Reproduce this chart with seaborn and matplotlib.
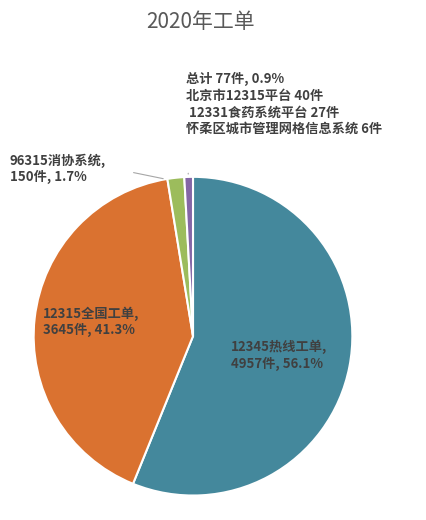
import matplotlib
matplotlib.use('Agg')
import matplotlib.pyplot as plt
import seaborn as sns

sns.set_theme(style='white')
plt.rcParams['font.family'] = ['Noto Sans CJK SC', 'DejaVu Sans']

labels = ['12345热线工单,\n4957件, 56.1%', '12315全国工单,\n3645件, 41.3%',
          '96315消协系统,\n150件, 1.7%',
          '总计 77件, 0.9%\n北京市12315平台 40件\n 12331食药系统平台 27件\n怀柔区城市管理网格信息系统 6件']
values = [4957, 3645, 150, 77]
colors = ['#44889c', '#da7230', '#9cbc5c', '#8466a6']

fig = plt.figure(figsize=(4.27, 5.2), dpi=100)
ax = fig.add_axes([0.075, 0.044, 0.754, 0.619])
wedges, _ = ax.pie(values, colors=colors, startangle=90, counterclock=False,
                   wedgeprops=dict(edgecolor='white', linewidth=1.5))
ax.set_xlim(-1.01, 1.01)
ax.set_ylim(-1.01, 1.01)
ax.set_aspect('equal')

tc = '#404040'
ax.text(0.24, -0.12, labels[0], fontsize=9.5, fontweight='bold', color=tc, ha='left', va='center')
ax.text(-0.94, 0.09, labels[1], fontsize=9.5, fontweight='bold', color=tc, ha='left', va='center')
fig.text(0.023, 0.675, labels[2], fontsize=9.5, fontweight='bold', color=tc, ha='left', va='center')
fig.text(0.435, 0.80, labels[3], fontsize=9.5, fontweight='bold', color=tc, ha='left', va='center',
         linespacing=1.25)
# leader lines
ax.annotate('', xy=(-0.17, 0.985), xytext=(-0.39, 1.03),
            arrowprops=dict(arrowstyle='-', color='#a6a6a6', lw=0.8), annotation_clip=False)
ax.annotate('', xy=(-0.03, 1.0), xytext=(-0.03, 1.04),
            arrowprops=dict(arrowstyle='-', color='#a6a6a6', lw=0.8), annotation_clip=False)

fig.text(0.47, 0.957, '2020年工单', fontsize=15, color='#595959', ha='center', va='center')
fig.savefig('out.png', dpi=100, facecolor='white')
